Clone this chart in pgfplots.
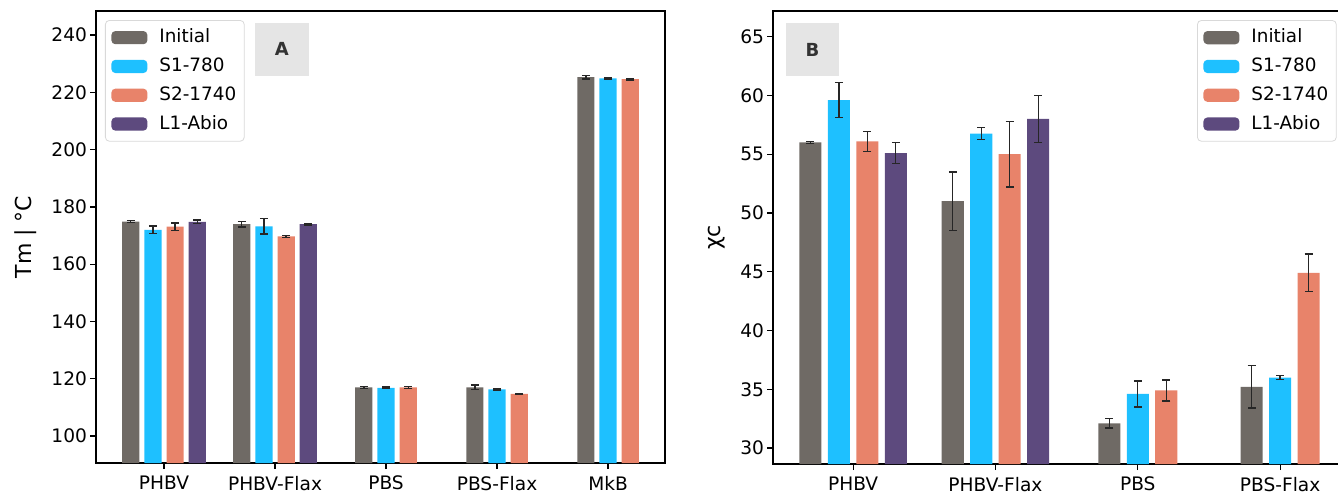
\documentclass[border=0pt]{standalone}
\usepackage{fontspec}
\setmainfont{DejaVu Sans}
\usepackage{pgfplots}
\pgfplotsset{compat=1.18}
\definecolor{cInit}{RGB}{111,106,101}
\definecolor{cS1}{RGB}{30,192,255}
\definecolor{cS2}{RGB}{232,131,106}
\definecolor{cL1}{RGB}{93,74,126}
\pgfplotsset{
  mybar/.style={ybar, bar width=0.155, bar shift=0pt, draw=none, fill=#1,
    legend image code/.code={\fill[##1] (0pt,-3.3pt) rectangle (18pt,3.3pt);},
    error bars/.cd, y dir=both, y explicit,
    error bar style={line width=0.65pt, color=black!85},
    error mark options={rotate=90, mark size=2pt, line width=0.65pt, color=black!85}},
  base/.style={scale only axis, axis line style={line width=0.75pt},
    tick align=outside, xtick pos=bottom, ytick pos=left,
    major tick length=3pt, tick style={black, line width=0.6pt},
    tick label style={font=\fontsize{9.3}{10}\selectfont},
    yticklabel style={xshift=2pt},
    /pgf/number format/assume math mode=true,
    legend cell align=left,
    legend style={anchor=north west, draw=black!15, rounded corners=2pt,
      font=\fontsize{9.2}{10}\selectfont, inner xsep=3pt, inner ysep=3pt,
      row sep=3.2pt, nodes={inner sep=1pt, text height=0.72em, text depth=0.2em},
      /tikz/every odd column/.append style={column sep=5pt}},
  }
}
\begin{document}
\begin{tikzpicture}
\useasboundingbox (0,0) rectangle (669pt,246.5pt);
% Panel A
\begin{axis}[base, at={(48pt,15pt)}, anchor=south west, width=284.5pt, height=226pt,
  xmin=-0.613, xmax=4.513, ymin=90.6, ymax=248.4,
  ytick={100,120,...,240}, xtick={0,1,2,3,4},
  xticklabels={PHBV, PHBV-Flax, PBS, PBS-Flax, MkB},
  every axis y label/.style={at={(rel axis cs:0,0.5)}, xshift=-35pt, rotate=90, anchor=center, font=\fontsize{11}{13}\selectfont},
  ylabel={Tm | °C},
  legend style={at={(0.0158,0.98)}}]
\addplot[mybar=cInit] coordinates {(-0.3,174.9) +- (0,0.3) (0.7,174.0) +- (0,1.0) (1.8,117.0) +- (0,0.4) (2.8,117.0) +- (0,0.8) (3.8,225.3) +- (0,0.6)};
\addplot[mybar=cS1] coordinates {(-0.1,172.0) +- (0,1.3) (0.9,173.2) +- (0,2.7) (2.0,116.8) +- (0,0.3) (3.0,116.3) +- (0,0.2) (4.0,224.9) +- (0,0.2)};
\addplot[mybar=cS2] coordinates {(0.1,173.1) +- (0,1.3) (1.1,169.7) +- (0,0.3) (2.2,117.0) +- (0,0.4) (3.2,114.7) +- (0,0.2) (4.2,224.6) +- (0,0.3)};
\addplot[mybar=cL1] coordinates {(0.3,174.8) +- (0,0.6) (1.3,174.0) +- (0,0.3)};
\legend{Initial, S1-780, S2-1740, L1-Abio}
\fill[black!10] (rel axis cs:0.279,0.856) rectangle (rel axis cs:0.374,0.9735);
\node[font=\bfseries\fontsize{9}{10}\selectfont, text=black!80] at (rel axis cs:0.3265,0.915) {A};
\end{axis}
% Panel B
\begin{axis}[base, at={(386.5pt,14.5pt)}, anchor=south west, width=286.5pt, height=226.5pt,
  xmin=-0.563, xmax=3.463, ymin=28.64, ymax=67.19,
  ytick={30,35,...,65}, xtick={0,1,2,3},
  xticklabels={PHBV, PHBV-Flax, PBS, PBS-Flax},
  every axis y label/.style={at={(rel axis cs:0,0.5)}, xshift=-28pt, rotate=90, anchor=center, font=\fontsize{11}{13}\selectfont},
  ylabel={χc},
  legend style={at={(0.74,0.98)}}]
\addplot[mybar=cInit] coordinates {(-0.3,56.0) +- (0,0.1) (0.7,51.0) +- (0,2.5) (1.8,32.1) +- (0,0.4) (2.8,35.2) +- (0,1.8)};
\addplot[mybar=cS1] coordinates {(-0.1,59.6) +- (0,1.5) (0.9,56.75) +- (0,0.5) (2.0,34.6) +- (0,1.1) (3.0,36.0) +- (0,0.15)};
\addplot[mybar=cS2] coordinates {(0.1,56.1) +- (0,0.85) (1.1,55.0) +- (0,2.8) (2.2,34.9) +- (0,0.9) (3.2,44.9) +- (0,1.6)};
\addplot[mybar=cL1] coordinates {(0.3,55.1) +- (0,0.9) (1.3,58.0) +- (0,2.0)};
\legend{Initial, S1-780, S2-1740, L1-Abio}
\fill[black!10] (rel axis cs:0.0227,0.856) rectangle (rel axis cs:0.1152,0.9735);
\node[font=\bfseries\fontsize{9}{10}\selectfont, text=black!80] at (rel axis cs:0.069,0.915) {B};
\end{axis}
\end{tikzpicture}
\end{document}
